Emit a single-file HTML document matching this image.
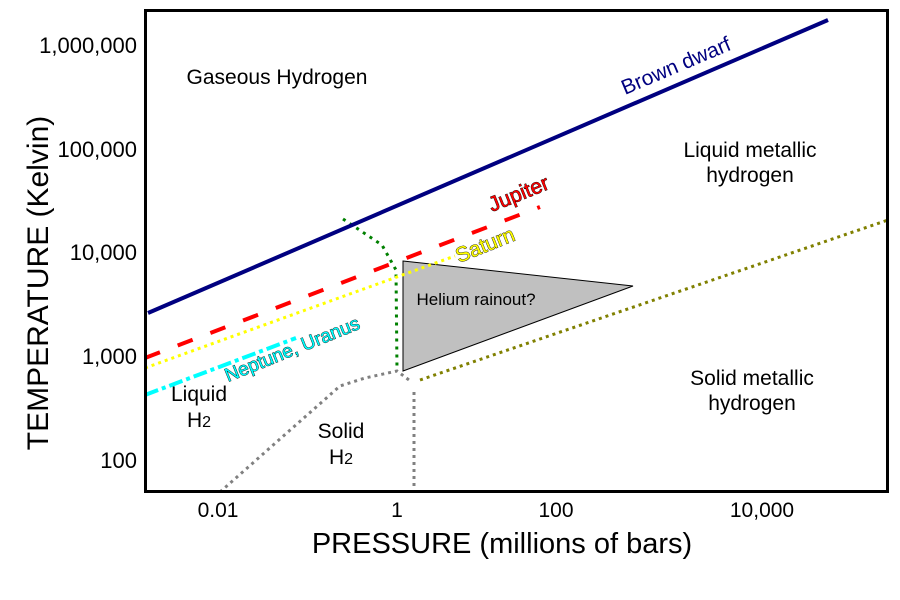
<!DOCTYPE html>
<html><head><meta charset="utf-8"><style>
body{margin:0;background:#fff;}
svg{display:block;font-family:"Liberation Sans",Arial,sans-serif;}
</style></head><body>
<svg width="900" height="600" viewBox="0 0 900 600">
<rect x="0" y="0" width="900" height="600" fill="#fff"/>
<polyline points="220,492 340,386 365,378 397,371 409,380" fill="none" stroke="#808080" stroke-width="3" stroke-dasharray="3,4"/>
<line x1="414" y1="392" x2="414" y2="492" stroke="#808080" stroke-width="3" stroke-dasharray="3,4"/>
<line x1="420" y1="380" x2="888" y2="220" stroke="#808000" stroke-width="3" stroke-dasharray="3,4"/>
<polygon points="403,261 633,286 403,371" fill="#c0c0c0" stroke="#000" stroke-width="1"/>
<text x="476" y="305" font-size="17" text-anchor="middle">Helium rainout?</text>
<polyline points="343,219 355,227 382,245 396,270 397,370" fill="none" stroke="#008000" stroke-width="3" stroke-dasharray="3,5"/>
<line x1="148" y1="313" x2="828" y2="20" stroke="#000080" stroke-width="4"/>
<line x1="145" y1="358" x2="540" y2="207" stroke="#ff0000" stroke-width="4" stroke-dasharray="16,19"/>
<line x1="145" y1="368" x2="455" y2="256" stroke="#ffff00" stroke-width="3" stroke-dasharray="3,4"/>
<line x1="145" y1="395" x2="296" y2="338" stroke="#00ffff" stroke-width="4" stroke-dasharray="14,4,4,4"/>
<rect x="145.5" y="10.5" width="742" height="481" fill="none" stroke="#000" stroke-width="3"/>
<g font-size="21">
<text x="277" y="84" text-anchor="middle">Gaseous Hydrogen</text>
<text x="750" y="157" text-anchor="middle">Liquid metallic</text>
<text x="750" y="182" text-anchor="middle">hydrogen</text>
<text x="752" y="385" text-anchor="middle">Solid metallic</text>
<text x="752" y="410" text-anchor="middle">hydrogen</text>
<text x="199" y="401" text-anchor="middle">Liquid</text>
<text x="199" y="427" text-anchor="middle">H<tspan font-size="16">2</tspan></text>
<text x="341" y="438" text-anchor="middle">Solid</text>
<text x="341" y="464" text-anchor="middle">H<tspan font-size="16">2</tspan></text>
</g>
<g font-size="21" stroke="#000" stroke-width="0.8" paint-order="stroke">
<text x="0" y="0" fill="#000080" stroke="none" transform="translate(625,95) rotate(-23)">Brown dwarf</text>
<text x="0" y="0" fill="#ff0000" transform="translate(492,212) rotate(-22)">Jupiter</text>
<text x="0" y="0" fill="#ffff00" transform="translate(459,263) rotate(-22)">Saturn</text>
<text x="0" y="0" fill="#00ffff" font-size="19" transform="translate(228,382) rotate(-22)">Neptune, Uranus</text>
</g>
<g font-size="22" text-anchor="end">
<text x="137" y="53">1,000,000</text>
<text x="137" y="157">100,000</text>
<text x="137" y="260">10,000</text>
<text x="137" y="364">1,000</text>
<text x="137" y="468">100</text>
</g>
<g font-size="21" text-anchor="middle">
<text x="218" y="517">0.01</text>
<text x="397" y="517">1</text>
<text x="556" y="517">100</text>
<text x="762" y="517">10,000</text>
</g>
<text x="502" y="553" font-size="29" text-anchor="middle">PRESSURE (millions of bars)</text>
<text transform="translate(48,283) rotate(-90)" font-size="30" text-anchor="middle">TEMPERATURE (Kelvin)</text>
</svg>
</body></html>
